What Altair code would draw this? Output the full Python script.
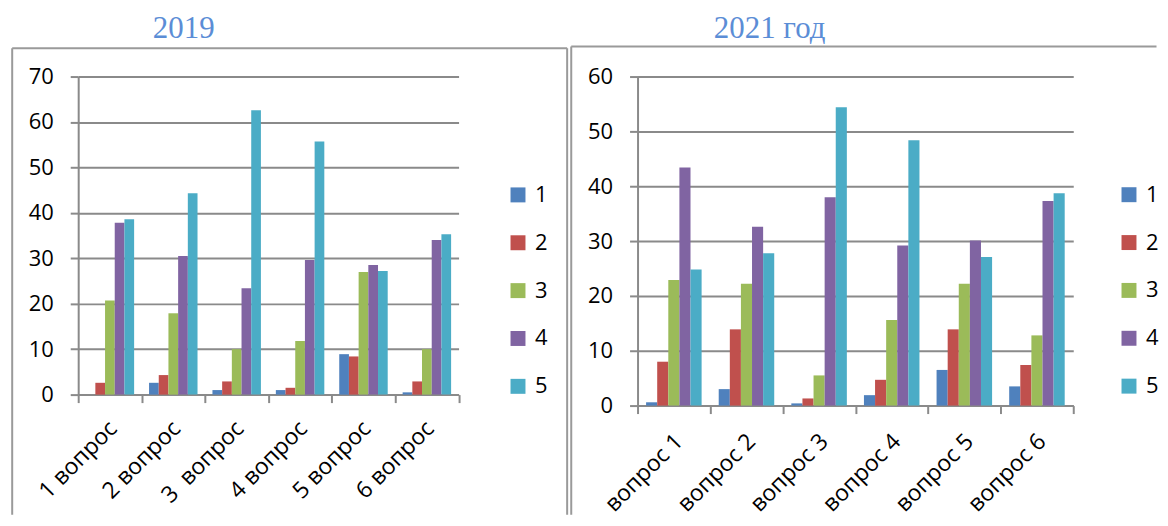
import altair as alt
import pandas as pd

# ---------------- data ----------------
grades = ["1", "2", "3", "4", "5"]
colors = ["#4F81BD", "#C0504D", "#9BBB59", "#8064A2", "#4BACC6"]

q2019 = ["1 вопрос", "2 вопрос", "3\u00a0 вопрос", "4 вопрос", "5 вопрос", "6 вопрос"]
g1_2019 = [0.0, 2.6, 1.0, 1.0, 8.9, 0.5]
g2_2019 = [2.6, 4.3, 2.9, 1.5, 8.4, 2.9]
g3_2019 = [20.7, 17.9, 10.0, 11.8, 27.0, 10.0]
g4_2019 = [37.8, 30.5, 23.4, 29.6, 28.5, 34.0]
g5_2019 = [38.6, 44.3, 62.6, 55.7, 27.2, 35.3]

q2021 = ["вопрос 1", "вопрос 2", "вопрос 3", "вопрос 4", "вопрос 5", "вопрос 6"]
g1_2021 = [0.6, 3.0, 0.4, 1.9, 6.5, 3.5]
g2_2021 = [8.0, 13.9, 1.3, 4.7, 13.9, 7.4]
g3_2021 = [22.9, 22.2, 5.5, 15.6, 22.2, 12.8]
g4_2021 = [43.4, 32.6, 38.0, 29.2, 30.1, 37.3]
g5_2021 = [24.8, 27.8, 54.4, 48.4, 27.1, 38.7]

title_2019 = "2019"
title_2021 = "2021 год"


def long_df(cats, series):
    rows = []
    for g, vals in zip(grades, series):
        for c, v in zip(cats, vals):
            rows.append({"q": c, "g": g, "v": v})
    return pd.DataFrame(rows)


df19 = long_df(q2019, [g1_2019, g2_2019, g3_2019, g4_2019, g5_2019])
df21 = long_df(q2021, [g1_2021, g2_2021, g3_2021, g4_2021, g5_2021])

# ---------------- layout (page pixels) ----------------
OY = 75.5
GRID = "#8a8a8a"
BORDER = "#9a9a9a"
TITLE_COLOR = "#5B8DD6"
FONT = "Open Sans"
one = pd.DataFrame({"a": [0]})


def rule(x, x2, y, y2, color=BORDER, width=2, opacity=1):
    return alt.Chart(one).mark_rule(color=color, strokeWidth=width, strokeOpacity=opacity).encode(
        x=alt.value(x), x2=alt.value(x2), y=alt.value(y), y2=alt.value(y2)
    )


def panel(df, cats, ymax, ox, W, H, lab_pad, lab_off, legx, legy, title, title_cx, borders):
    bars = alt.Chart(df).mark_bar().encode(
        x=alt.X(
            "q:N",
            sort=cats,
            scale=alt.Scale(paddingInner=0, paddingOuter=0),
            axis=alt.Axis(
                title=None,
                labelAngle=-45,
                labelAlign="right",
                labelBaseline="middle",
                labelPadding=lab_pad,
                labelOffset=lab_off,
                tickBand="extent",
                tickSize=8,
                tickColor=GRID,
                tickWidth=2,
                domainColor=GRID,
                domainWidth=2,
                grid=False,
                labelFont=FONT,
                labelFontSize=23,
                labelColor="#000000",
            ),
        ),
        xOffset=alt.XOffset(
            "g:N", sort=grades, scale=alt.Scale(paddingOuter=0.77, paddingInner=0)
        ),
        y=alt.Y(
            "v:Q",
            scale=alt.Scale(domain=[0, ymax], nice=False),
            axis=alt.Axis(
                title=None,
                values=list(range(0, ymax + 1, 10)),
                tickSize=8,
                tickColor=GRID,
                tickWidth=2,
                labelPadding=17,
                grid=True,
                gridColor=GRID,
                gridWidth=2,
                domainColor=GRID,
                domainWidth=2,
                labelFont=FONT,
                labelFontSize=22,
                labelColor="#000000",
            ),
        ),
        color=alt.Color(
            "g:N",
            sort=grades,
            scale=alt.Scale(domain=grades, range=colors),
            legend=alt.Legend(
                title=None,
                orient="none",
                legendX=legx - ox,
                legendY=legy - OY,
                symbolType="square",
                symbolSize=225,
                symbolStrokeWidth=0,
                labelFont=FONT,
                labelFontSize=22,
                labelColor="#000000",
                labelOffset=6,
                rowPadding=26,
                padding=0,
            ),
        ),
    )
    ttl = alt.Chart(one).mark_text(
        font="Liberation Serif", fontSize=31, color=TITLE_COLOR, align="center", baseline="alphabetic"
    ).encode(x=alt.value(title_cx - ox), y=alt.value(37 - OY), text=alt.value(title))
    layers = [bars, ttl]
    for (x1, x2, y1, y2) in borders:
        layers.append(rule(x1 - ox, x2 - ox, y1 - OY, y2 - OY))
    return alt.layer(*layers).properties(width=W, height=H)


OX1, W1, H1 = 76.6, 381.5, 319
OX2, W2, H2 = 636.5, 437, 330
BOTTOM = 515

left = panel(
    df19, q2019, 70, OX1, W1, H1, 22, 3, 506.7, 186.7 - 3.5, title_2019, 182.4,
    [(10.4, 10.4, 47, BOTTOM), (10.4, 567, 47, 47), (567, 567, 47, BOTTOM)],
)
left = alt.layer(left, rule(-68, -67, 8.5 - OY, 8.5 - OY, opacity=0, width=1))

right = panel(
    df21, q2021, 60, OX2, W2, H2, 24, 5, 1118.4, 186.5 - 3.5, title_2021, 769,
    [(570, 570, 45.3, BOTTOM), (570, 1157, 45.3, 45.3)],
)

chart = (
    alt.hconcat(left, right, spacing=1)
    .resolve_scale(color="independent", x="independent", y="independent", xOffset="independent")
    .resolve_legend(color="independent")
    .properties(padding={"left": 1.4, "top": 0, "right": 0, "bottom": 0}, background="#ffffff")
    .configure_view(stroke="transparent")
)

chart.save("out.html", embed_options={"renderer": "svg", "actions": False})
